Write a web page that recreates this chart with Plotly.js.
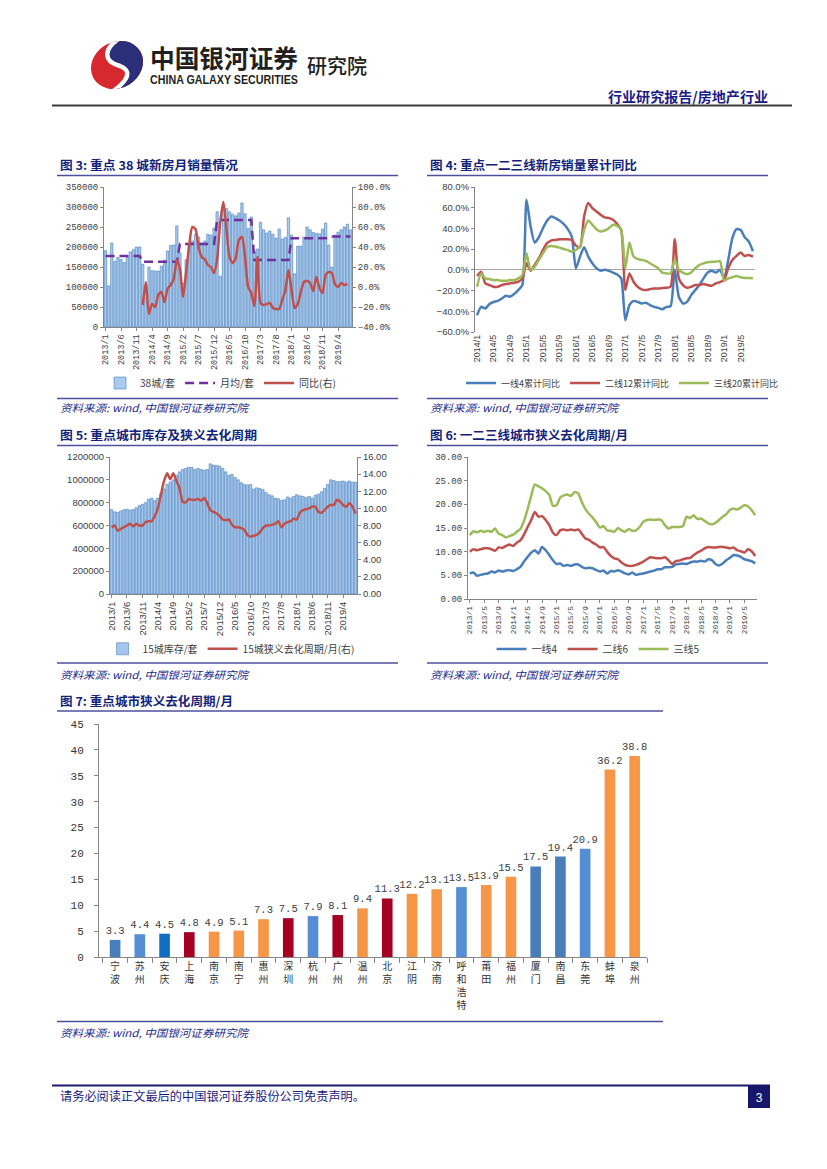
<!DOCTYPE html>
<html><head><meta charset="utf-8">
<script src="https://cdn.plot.ly/plotly-3.0.1.min.js"></script>
<style>
html,body{margin:0;padding:0;background:#fff;}
#page{position:relative;width:827px;height:1169px;overflow:hidden;background:#fff;}
.chart{position:absolute;}
#overlay{position:absolute;left:0;top:0;pointer-events:none;}
</style></head>
<body><div id="page">
<div id="fig3" class="chart" style="left:55px;top:178px;width:360px;height:230px"></div>
<div id="fig4" class="chart" style="left:425px;top:178px;width:360px;height:230px"></div>
<div id="fig5" class="chart" style="left:55px;top:448px;width:360px;height:224px"></div>
<div id="fig6" class="chart" style="left:425px;top:448px;width:360px;height:224px"></div>
<div id="fig7" class="chart" style="left:55px;top:714px;width:610px;height:305px"></div>
<svg id="overlay" width="827" height="1169" font-family="'Noto Sans CJK SC','Noto Sans',sans-serif">
  <defs>
    <clipPath id="logoClip"><ellipse cx="117" cy="65" rx="27" ry="23" transform="rotate(-30 117 65)"/></clipPath>
  </defs>
  <g clip-path="url(#logoClip)">
    <rect x="85" y="35" width="70" height="60" fill="#d7282f"/>
    <path d="M 123 36 C 100 50, 105 62, 120 66 C 135 72, 125 84, 106 96 L 160 96 L 160 36 Z" fill="#2b2f7a"/>
    <path d="M 123 36 C 100 50, 105 62, 120 66 C 135 72, 125 84, 106 96" fill="none" stroke="#fff" stroke-width="4.5"/>
  </g>
  <text x="150" y="67.5" font-size="25" font-weight="700" fill="#231f20" textLength="148" lengthAdjust="spacingAndGlyphs">中国银河证券</text>
  <text x="150" y="83.5" font-family="'Liberation Sans',Arial,sans-serif" font-size="12" font-weight="700" fill="#231f20" textLength="148" lengthAdjust="spacingAndGlyphs">CHINA GALAXY SECURITIES</text>
  <text x="307" y="74" font-size="20" font-weight="500" fill="#231f20" textLength="60" lengthAdjust="spacingAndGlyphs">研究院</text>
  <text x="608" y="101.5" font-size="14" font-weight="700" fill="#1b1b86" textLength="160" lengthAdjust="spacingAndGlyphs">行业研究报告/房地产行业</text>
  <line x1="52" y1="105.5" x2="792" y2="105.5" stroke="#3c3c3c" stroke-width="2"/>

  <g font-size="12" font-weight="700" fill="#13237a">
    <text x="60" y="170" textLength="178" lengthAdjust="spacingAndGlyphs">图 3: 重点 38 城新房月销量情况</text>
    <text x="430" y="170" textLength="207" lengthAdjust="spacingAndGlyphs">图 4: 重点一二三线新房销量累计同比</text>
    <text x="60" y="440" textLength="197" lengthAdjust="spacingAndGlyphs">图 5: 重点城市库存及狭义去化周期</text>
    <text x="430" y="440" textLength="198" lengthAdjust="spacingAndGlyphs">图 6: 一二三线城市狭义去化周期/月</text>
    <text x="60" y="705.5" textLength="173" lengthAdjust="spacingAndGlyphs">图 7: 重点城市狭义去化周期/月</text>
  </g>
  <g stroke="#4f4fa0" stroke-width="1.6">
    <line x1="57" y1="175.5" x2="398" y2="175.5"/>
    <line x1="427" y1="175.5" x2="768" y2="175.5"/>
    <line x1="57" y1="398.5" x2="398" y2="398.5"/>
    <line x1="427" y1="398.5" x2="768" y2="398.5"/>
    <line x1="57" y1="445.5" x2="398" y2="445.5"/>
    <line x1="427" y1="445.5" x2="768" y2="445.5"/>
    <line x1="57" y1="663" x2="398" y2="663"/>
    <line x1="427" y1="663" x2="768" y2="663"/>
    <line x1="57" y1="711" x2="663" y2="711"/>
    <line x1="57" y1="1021.5" x2="663" y2="1021.5"/>
  </g>
  <g font-size="10.5" font-style="italic" fill="#1c2c8c">
    <text x="60" y="412" textLength="188" lengthAdjust="spacingAndGlyphs">资料来源: wind, 中国银河证券研究院</text>
    <text x="430" y="412" textLength="188" lengthAdjust="spacingAndGlyphs">资料来源: wind, 中国银河证券研究院</text>
    <text x="60" y="679" textLength="188" lengthAdjust="spacingAndGlyphs">资料来源: wind, 中国银河证券研究院</text>
    <text x="430" y="679" textLength="188" lengthAdjust="spacingAndGlyphs">资料来源: wind, 中国银河证券研究院</text>
    <text x="60" y="1037" textLength="188" lengthAdjust="spacingAndGlyphs">资料来源: wind, 中国银河证券研究院</text>
  </g>
  <line x1="52" y1="1085.5" x2="770" y2="1085.5" stroke="#1a1a6e" stroke-width="2"/>
  <text x="60" y="1101" font-size="12" fill="#1a1a80" textLength="305" lengthAdjust="spacingAndGlyphs">请务必阅读正文最后的中国银河证券股份公司免责声明。</text>
  <rect x="748" y="1086" width="22" height="22" fill="#16166b"/>
  <text x="759" y="1101.5" font-family="'Liberation Sans',Arial,sans-serif" font-size="12" fill="#fff" text-anchor="middle">3</text>
</svg>
</div>
<script>
const FONT_CN = "'Noto Sans CJK SC','Noto Sans',sans-serif";
const MONO = "'Liberation Mono','DejaVu Sans Mono',monospace";
const SANS = "'Liberation Sans',Arial,sans-serif";
const AX = '#868686';
const TXT = '#404040';
const cfg = {staticPlot: true, displayModeBar: false};

function monthLabels(y, m, n) {
  const out = [];
  for (let i = 0; i < n; i++) { out.push(y + '/' + m); m++; if (m > 12) { m = 1; y++; } }
  return out;
}

/* ---------- Figure 3 data ---------- */
const f3Months = monthLabels(2013, 1, 80);
const f3Ticks = ['2013/1','2013/6','2013/11','2014/4','2014/9','2015/2','2015/7','2015/12','2016/5','2016/10','2017/3','2017/8','2018/1','2018/6','2018/11','2019/4'];
const f3Sales = [191000,103000,210000,164000,174000,169000,161000,174000,188000,194000,200000,200000,
157000,105000,150000,141000,140000,140000,152000,167000,190000,204000,205000,253000,
185000,110000,168000,205000,215000,232000,225000,210000,215000,232000,230000,247000,
288000,127000,300000,296000,288000,282000,278000,285000,310000,283000,246000,275000,
190000,195000,262000,243000,235000,240000,232000,222000,245000,220000,224000,273000,
230000,133000,202000,202000,225000,250000,243000,236000,234000,233000,245000,260000,
205000,150000,230000,237000,243000,250000,257000,243000];
const f3Avg = [177500,177500,177500,177500,177500,177500,177500,177500,177500,177500,177500,177500,
163000,163000,163000,163000,163000,163000,163000,163000,163000,163000,163000,163000,
207500,207500,207500,207500,207500,207500,207500,207500,207500,207500,207500,207500,
267500,267500,267500,267500,267500,267500,267500,267500,267500,267500,267500,267500,
167500,167500,167500,167500,167500,167500,167500,167500,167500,167500,167500,167500,
221700,221700,221700,221700,221700,221700,221700,221700,221700,221700,221700,221700,
226000,226000,226000,226000,226000,226000,226000,226000];
const f3Yoy = [null,null,null,null,null,null,null,null,null,null,null,null,
-18,5,-27,-17,-20,-8,-5,-15,-2,2,8,27,
18,-10,15,42,60,58,40,30,28,22,20,14,
28,65,85,58,30,24,29,47,50,30,0,-6,
-19,30,-16,-18,-17,-16,-21,-22,-22,-13,-3,17,
-3,-21,-17,-5,5,6,4,-4,10,-1,-6,12,
15,14,3,0,4,2,3,null];

/* ---------- Figure 4 data ---------- */
const f4Months = monthLabels(2014, 1, 68);
const f4Ticks = ['2014/1','2014/5','2014/9','2015/1','2015/5','2015/9','2016/1','2016/5','2016/9','2017/1','2017/5','2017/9','2018/1','2018/5','2018/9','2019/1','2019/5'];
const f4Tier1 = [-43.8,-35.7,-37.3,-33,-31,-30,-27.6,-25,-26,-23.4,-19.5,-14.7,
67.7,41.9,26.3,31.5,40.2,47.4,51.6,50,47.7,44.4,39.6,32.2,
1.5,12.8,21.8,12.8,6.3,1.5,-0.8,0,-1,-2.6,-4.4,-8.2,
-48.6,-34,-30,-30.9,-32.5,-31.8,-34,-35.7,-36.7,-38,-35.7,-35,
0,-26,-32.5,-30.9,-24.4,-19.5,-14.7,-8.2,-2.6,-0.8,-2.6,0,
-8.2,9.6,30.6,39.3,38.6,31.5,27.3,18];
const f4Tier2 = [-6,-1.8,-13,-14.7,-16.3,-16.3,-14.7,-13.7,-13,-12.4,-11.5,-8.2,
6.3,-0.8,4.7,11,19.2,25.7,28.3,28.9,29.6,29.6,29.6,28.9,
23.4,21.8,51.6,64.5,59.6,56.4,53.2,50.6,50,48.3,44.4,38.6,
-19.5,-3.4,-11.5,-16.3,-18.9,-19.5,-18.6,-17.9,-17.9,-17.6,-17.3,-16.3,
29.6,-8.2,-14.7,-17.3,-16.3,-14.7,-14.7,-13.7,-14.7,-15.3,-13,-11.8,
-9.9,1.5,9.6,13.4,16.7,13.4,14.4,12.8];
const f4Tier3 = [-16.3,-3.4,-8.2,-8.9,-9.9,-9.9,-10.5,-10.5,-9.9,-9.9,-8.2,-5,
16,0,3,9.6,16,21.8,23,22.5,21.5,20.2,19.2,17.6,
19.2,22.5,38.6,47.7,43.5,39.3,37,38,40.2,43.5,42.5,38.6,
1.5,26.3,12.8,10.5,9.6,8.6,6.3,4,1.5,-2.6,-3.4,-3.4,
10.2,0,-2.6,-4.2,-2.6,1.5,4.7,6.3,7.3,7.9,7.9,8.6,
-10.5,-8.2,-7.2,-6,-7.2,-7.9,-7.9,-8.2];

/* ---------- Figure 5 data ---------- */
const f5Months = monthLabels(2013, 1, 80);
const f5Ticks = f3Ticks;
const f5Stock = [740000,720000,715000,728000,738000,742000,735000,740000,755000,775000,785000,800000,
830000,840000,820000,840000,880000,920000,960000,980000,1000000,1040000,1070000,1090000,
1100000,1110000,1110000,1090000,1100000,1090000,1085000,1090000,1140000,1130000,1125000,1120000,
1100000,1070000,1040000,1050000,1020000,1000000,975000,960000,955000,960000,920000,930000,
925000,915000,890000,870000,860000,840000,835000,820000,825000,850000,840000,855000,
870000,860000,855000,845000,855000,840000,865000,875000,895000,925000,960000,1000000,
995000,985000,985000,990000,980000,990000,980000,980000];
const f5Cycle = [7.8,8.0,7.4,7.6,7.8,8.0,8.2,7.9,8.2,8.0,8.0,8.4,
8.5,8.5,9.1,10.0,11.6,13.2,14.1,13.4,14.1,13.2,12.4,10.8,
10.7,11.1,11.0,11.0,11.1,10.9,11.2,10.6,9.8,9.6,9.4,9.1,
8.7,8.6,8.7,8.1,7.8,7.8,7.7,7.5,6.9,6.7,6.8,6.9,
7.2,7.7,8.0,8.0,8.1,8.2,8.5,7.8,8.2,8.4,8.5,8.8,
8.7,9.5,9.8,9.9,10.0,10.2,10.2,9.6,9.5,9.8,10.2,10.4,
10.4,11.0,10.8,10.4,10.2,10.6,10.2,9.4];

/* ---------- Figure 6 data ---------- */
const f6Months = monthLabels(2013, 1, 80);
const f6Ticks = ['2013/1','2013/5','2013/9','2014/1','2014/5','2014/9','2015/1','2015/5','2015/9','2016/1','2016/5','2016/9','2017/1','2017/5','2017/9','2018/1','2018/5','2018/9','2019/1','2019/5'];
const f6Tier1 = [5.4,5.6,4.9,5.1,5.3,5.4,5.8,5.6,6.0,5.8,6.0,6.1,
5.9,6.3,6.8,7.9,8.9,9.8,10.3,9.6,11.0,10.3,9.3,8.2,
7.4,7.5,7.0,7.2,7.0,7.3,7.3,6.8,6.5,6.6,6.5,6.1,
5.8,6.0,5.4,5.9,5.8,6.1,5.8,5.4,5.2,5.6,5.1,5.3,
5.4,5.6,5.8,6.0,6.3,6.3,6.7,6.7,6.8,7.3,7.4,7.5,
7.4,7.7,7.9,7.9,8.1,7.9,8.4,8.2,7.4,7.1,7.5,8.2,
8.7,9.3,9.2,8.9,8.4,8.2,8.0,7.5];
const f6Tier2 = [10.0,10.5,10.3,10.5,10.7,10.7,10.5,10.2,10.9,10.8,11.2,11.5,
11.2,11.9,12.4,13.6,15.2,16.7,18.4,17.4,17.5,16.7,15.6,14.0,
13.5,14.5,14.7,14.5,14.7,14.5,14.7,13.8,12.8,12.5,11.9,11.5,
10.9,11.0,10.0,9.1,8.6,8.4,7.7,7.2,7.0,7.0,7.2,7.5,
7.9,8.4,8.8,8.7,8.6,8.6,8.8,8.2,7.4,8.0,8.1,8.4,
8.6,8.7,9.3,9.8,10.2,10.7,11.0,10.9,10.9,11.0,11.0,10.9,
10.7,10.9,10.3,10.1,9.8,10.5,10.1,9.1];
const f6Tier3 = [13.5,14.3,14.1,14.4,14.2,14.4,14.2,14.9,13.8,13.5,13.0,13.3,
13.6,14.2,14.8,16.5,19.0,21.8,24.2,23.8,23.4,22.8,22.0,19.7,
19.8,21.4,21.9,22.1,21.8,22.6,22.3,20.5,19.0,18.0,17.2,16.2,
15.1,15.4,14.5,14.4,14.2,15.0,14.5,14.2,14.8,14.4,14.5,15.2,
16.3,16.7,16.8,16.7,16.8,16.7,15.6,14.9,15.2,15.2,15.2,15.4,
17.4,17.1,17.7,16.9,17.0,16.5,16.0,15.8,16.1,16.7,17.4,17.9,
18.8,19.1,18.9,19.3,19.8,19.6,18.8,17.7];

/* ---------- Figure 7 data ---------- */
const f7Cities = ['宁波','苏州','安庆','上海','南京','南宁','惠州','深圳','杭州','广州','温州','北京','江阴','济南','呼和浩特','莆田','福州','厦门','南昌','东莞','蚌埠','泉州'];
const f7Values = [3.3,4.4,4.5,4.8,4.9,5.1,7.3,7.5,7.9,8.1,9.4,11.3,12.2,13.1,13.5,13.9,15.5,17.5,19.4,20.9,36.2,38.8];
const f7Colors = ['#4a7ebb','#558ed5','#0f6fc6','#a50021','#f79646','#f79646','#f79646','#a50021','#558ed5','#a50021','#f79646','#a50021','#f79646','#f79646','#558ed5','#f79646','#f79646','#4a7ebb','#4a7ebb','#558ed5','#f79646','#f79646'];

function baseAxis(extra) {
  return Object.assign({showline:true, linecolor:AX, linewidth:1, ticks:'outside', ticklen:3, tickcolor:AX,
    showgrid:false, zeroline:false, automargin:false}, extra);
}
function legendAt(x, xanchor, y, size) {
  return {orientation:'h', x:x, xanchor:xanchor, y:y, yanchor:'middle',
    font:{family:FONT_CN, size:size || 10, color:TXT}, itemwidth:30, bgcolor:'rgba(0,0,0,0)'};
}
const common = {paper_bgcolor:'rgba(0,0,0,0)', plot_bgcolor:'rgba(0,0,0,0)', hovermode:false};

/* Figure 3 */
Plotly.newPlot('fig3', [
  {type:'bar', x:f3Months, y:f3Sales, name:'38城/套', marker:{color:'#a9cbee', line:{color:'#4a7ebb', width:0.6}}},
  {type:'scatter', mode:'lines', x:f3Months, y:f3Avg, name:'月均/套', line:{color:'#7030a0', width:2.5, dash:'9px,5px'}},
  {type:'scatter', mode:'lines', x:f3Months, y:f3Yoy, name:'同比(右)', yaxis:'y2', line:{color:'#c0504d', width:2.5, shape:'spline', smoothing:0.7}}
], Object.assign({
  width:360, height:230, margin:{l:49, r:63, t:9, b:81},
  font:{family:MONO, size:9, color:TXT}, bargap:0.25, showlegend:true, legend:legendAt(0.47, 'center', -0.4),
  xaxis:baseAxis({type:'category', range:[-0.5,79.5], tickmode:'array', tickvals:f3Ticks, ticktext:f3Ticks, tickangle:-90, tickfont:{family:MONO, size:8.5, color:TXT}}),
  yaxis:baseAxis({range:[0,350000], dtick:50000, tickformat:'d', tickfont:{family:MONO, size:9, color:TXT}}),
  yaxis2:baseAxis({overlaying:'y', side:'right', range:[-40,100], dtick:20, tickformat:'.1f', ticksuffix:'%', tickfont:{family:MONO, size:9, color:TXT}})
}, common), cfg);

/* Figure 4 */
Plotly.newPlot('fig4', [
  {type:'scatter', mode:'lines', x:f4Months, y:f4Tier1, name:'一线4累计同比', line:{color:'#4a7ebb', width:2.5, shape:'spline', smoothing:0.6}},
  {type:'scatter', mode:'lines', x:f4Months, y:f4Tier2, name:'二线12累计同比', line:{color:'#c0504d', width:2.5, shape:'spline', smoothing:0.6}},
  {type:'scatter', mode:'lines', x:f4Months, y:f4Tier3, name:'三线20累计同比', line:{color:'#9bbb59', width:2.5, shape:'spline', smoothing:0.6}}
], Object.assign({
  width:360, height:230, margin:{l:50, r:30, t:9, b:76},
  font:{family:SANS, size:9, color:TXT}, showlegend:true, legend:legendAt(-0.05, 'left', -0.352, 9),
  xaxis:baseAxis({type:'category', range:[-0.5,67.5], tickmode:'array', tickvals:f4Ticks, ticktext:f4Ticks, tickangle:-90, showline:false, ticks:'', tickfont:{family:SANS, size:9, color:TXT}}),
  yaxis:baseAxis({range:[-60,80], dtick:20, tickformat:'.1f', ticksuffix:'%', zeroline:true, zerolinecolor:'#a6a6a6', zerolinewidth:1, tickfont:{family:SANS, size:9.5, color:TXT}})
}, common), cfg);

/* Figure 5 */
Plotly.newPlot('fig5', [
  {type:'bar', x:f5Months, y:f5Stock, name:'15城库存/套', marker:{color:'#a3c6ea', line:{color:'#4f81bd', width:0.6}}},
  {type:'scatter', mode:'lines', x:f5Months, y:f5Cycle, name:'15城狭义去化周期/月(右)', yaxis:'y2', line:{color:'#c0504d', width:2.5, shape:'spline', smoothing:0.6}}
], Object.assign({
  width:360, height:224, margin:{l:55, r:58, t:9, b:78},
  font:{family:SANS, size:9.5, color:TXT}, bargap:0.2, showlegend:true, legend:legendAt(-0.03, 'left', -0.40),
  xaxis:baseAxis({type:'category', range:[-0.5,79.5], tickmode:'array', tickvals:f5Ticks, ticktext:f5Ticks, tickangle:-90, tickfont:{family:SANS, size:9.5, color:TXT}}),
  yaxis:baseAxis({range:[0,1200000], dtick:200000, tickformat:'d', tickfont:{family:SANS, size:9.5, color:TXT}}),
  yaxis2:baseAxis({overlaying:'y', side:'right', range:[0,16], dtick:2, tickformat:'.2f', tickfont:{family:SANS, size:9.5, color:TXT}})
}, common), cfg);

/* Figure 6 */
Plotly.newPlot('fig6', [
  {type:'scatter', mode:'lines', x:f6Months, y:f6Tier1, name:'一线4', line:{color:'#4a7ebb', width:2.5, shape:'spline', smoothing:0.6}},
  {type:'scatter', mode:'lines', x:f6Months, y:f6Tier2, name:'二线6', line:{color:'#c0504d', width:2.5, shape:'spline', smoothing:0.6}},
  {type:'scatter', mode:'lines', x:f6Months, y:f6Tier3, name:'三线5', line:{color:'#9bbb59', width:2.5, shape:'spline', smoothing:0.6}}
], Object.assign({
  width:360, height:224, margin:{l:43, r:28, t:9, b:73},
  font:{family:MONO, size:8.5, color:TXT}, showlegend:true, legend:legendAt(0.45, 'center', -0.352),
  xaxis:baseAxis({type:'category', range:[-0.5,79.5], tickmode:'array', tickvals:f6Ticks, ticktext:f6Ticks, tickangle:-90, tickfont:{family:MONO, size:7.8, color:TXT}}),
  yaxis:baseAxis({range:[0,30], dtick:5, tickformat:'.2f', tickfont:{family:MONO, size:9, color:TXT}})
}, common), cfg);

/* Figure 7 */
const f7Labels = f7Cities.map(c => c.split('').join('<br>'));
Plotly.newPlot('fig7', [
  {type:'bar', x:f7Labels, y:f7Values, marker:{color:f7Colors}, text:f7Values.map(v => v.toFixed(1)),
   textposition:'outside', textfont:{family:MONO, size:10.5, color:'#404040'}, constraintext:'none', cliponaxis:false}
], Object.assign({
  width:610, height:305, margin:{l:44, r:18, t:10, b:62}, bargap:0.57, showlegend:false,
  font:{family:MONO, size:11, color:'#333'},
  xaxis:baseAxis({type:'category', range:[-0.65,21.5], tickmode:'linear', tick0:0, dtick:1, tickson:'boundaries', ticklen:5, tickfont:{family:FONT_CN, size:10, color:'#333'}}),
  yaxis:baseAxis({range:[0,45], dtick:5, ticklen:4, ticklabelstandoff:8, tickfont:{family:MONO, size:11, color:'#333'}})
}, common), cfg);
</script>
</body></html>
